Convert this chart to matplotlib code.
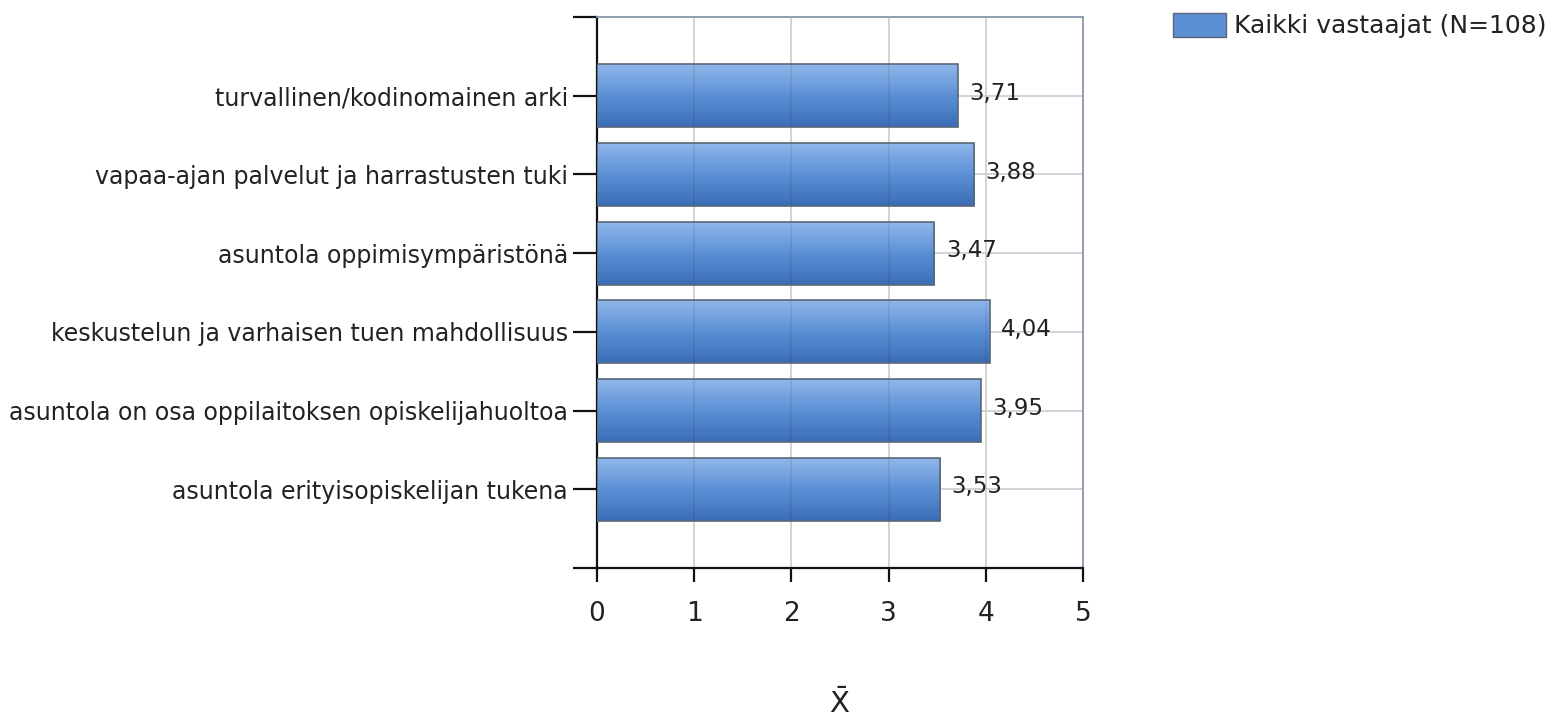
import matplotlib
matplotlib.use("Agg")
import matplotlib.pyplot as plt
import numpy as np
from matplotlib.patches import Patch

categories = [
    "turvallinen/kodinomainen arki",
    "vapaa-ajan palvelut ja harrastusten tuki",
    "asuntola oppimisympäristönä",
    "keskustelun ja varhaisen tuen mahdollisuus",
    "asuntola on osa oppilaitoksen opiskelijahuoltoa",
    "asuntola erityisopiskelijan tukena",
]
values = [3.71, 3.88, 3.47, 4.04, 3.95, 3.53]
series_name = "Kaikki vastaajat (N=108)"
xticks = [0, 1, 2, 3, 4, 5]

TXT = "#222222"

W, H = 1561, 718
fig = plt.figure(figsize=(W / 100, H / 100), dpi=100)
ax = fig.add_axes([597 / W, 1 - 568 / H, (1083 - 597) / W, (568 - 17) / H])

n = len(categories)
ypos = np.arange(n)[::-1]  # first category on top
bars = ax.barh(ypos, values, height=0.8, color="#5b8fd4", edgecolor="none", zorder=3)

grad = np.linspace(0, 1, 256).reshape(-1, 1)
cmap = matplotlib.colors.LinearSegmentedColormap.from_list("g", ["#90b7ea", "#5c90d6", "#3a6db5"])
for b in bars:
    x0, y0 = b.get_x(), b.get_y()
    w, h = b.get_width(), b.get_height()
    im = ax.imshow(grad, extent=(x0, x0 + w, y0, y0 + h), origin="upper", aspect="auto",
                   cmap=cmap, zorder=3.5)
    im.set_clip_path(b)
    # faint vertical grid showing through the bar
    inner = [t for t in xticks if 0 < t < x0 + w]
    if inner:
        ax.vlines(inner, y0, y0 + h, color="#000000", alpha=0.08, linewidth=1.2, zorder=3.8)
    ax.add_patch(plt.Rectangle((x0, y0), w, h, fill=False, edgecolor="#5a6678", linewidth=1.2, zorder=4))

for y, v in zip(ypos, values):
    ax.text(v + 0.12, y + 0.03, f"{v:.2f}".replace(".", ","), va="center", ha="left",
            fontsize=16.5, color=TXT, zorder=5)

ax.set_xlim(0, 5)
ax.set_ylim(-1, n)
ax.set_xticks(xticks)
ax.set_xticklabels([str(t) for t in xticks], fontsize=19)
ax.set_yticks(list(ypos) + [-1, n], labels=categories + ["", ""], fontsize=17)
ax.grid(True, color="#d0d0d0", linewidth=1.3, zorder=0)
ax.set_axisbelow(True)

for s in ["top", "right"]:
    ax.spines[s].set_color("#8a9ab0")
    ax.spines[s].set_linewidth(1.3)
for s in ["left", "bottom"]:
    ax.spines[s].set_color("#111111")
    ax.spines[s].set_linewidth(1.6)
ax.tick_params(axis="y", length=17, width=1.6, pad=4, color="#111111", labelcolor=TXT)
ax.tick_params(axis="x", length=10, width=1.6, pad=14, color="#111111", labelcolor=TXT)

ax.set_xlabel(r"$\bar{\mathrm{X}}$", fontsize=21, labelpad=44, color=TXT)

fs_leg = 18
fig.legend(handles=[Patch(facecolor="#5b8fd4", edgecolor="#5a6678", label=series_name)],
           loc="upper left", bbox_to_anchor=(1173 / W, 1 - 13 / H), frameon=False,
           borderpad=0, borderaxespad=0,
           fontsize=fs_leg, handlelength=2.1, handleheight=1.1, handletextpad=0.33,
           labelcolor=TXT)

fig.savefig("out.png", dpi=100)
